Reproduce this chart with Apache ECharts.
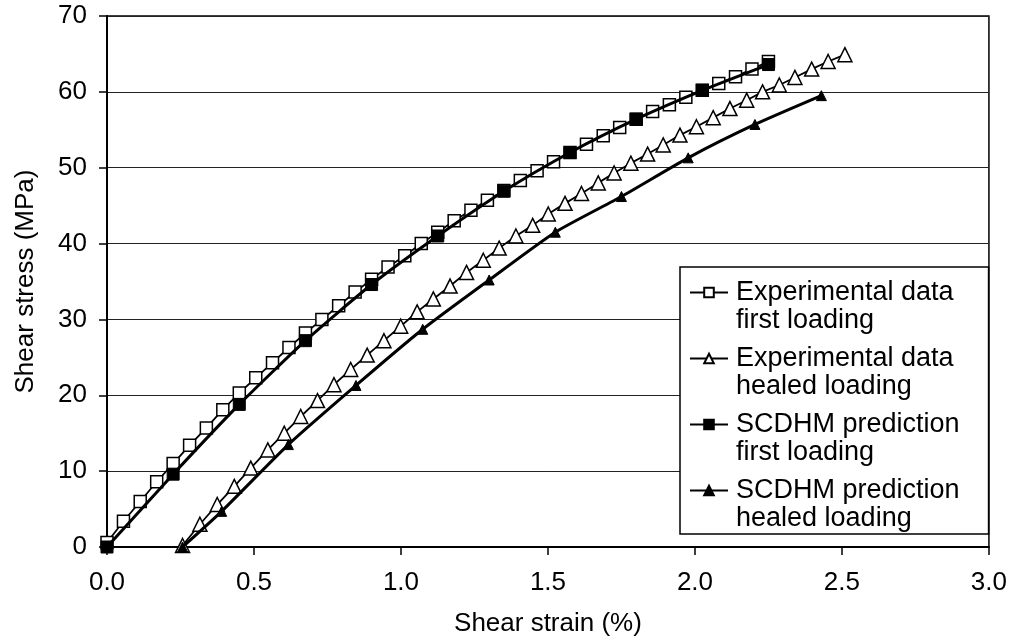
<!DOCTYPE html>
<html>
<head>
<meta charset="utf-8">
<script src="https://cdn.jsdelivr.net/npm/echarts@6/dist/echarts.min.js"></script>
<style>
html,body{margin:0;padding:0;background:#fff;}
#chart{width:1010px;height:642px;}
</style>
</head>
<body>
<div id="chart"></div>
<script>
// ---- data ----
var seriesNames = [
  'Experimental data\nfirst loading',
  'Experimental data\nhealed loading',
  'SCDHM prediction\nfirst loading',
  'SCDHM prediction\nhealed loading'
];

var expFirstX = [0.000,0.056,0.113,0.169,0.225,0.281,0.338,0.394,0.450,0.506,0.563,0.619,0.675,0.731,0.788,0.844,0.900,0.956,1.013,1.069,1.125,1.181,1.238,1.294,1.350,1.406,1.463,1.519,1.575,1.631,1.688,1.744,1.800,1.856,1.913,1.969,2.025,2.081,2.138,2.194,2.250];
var expFirstY = [0.6,3.4,6.0,8.6,11.0,13.4,15.7,18.1,20.3,22.3,24.3,26.3,28.2,30.0,31.8,33.6,35.3,36.9,38.4,40.0,41.5,43.0,44.4,45.7,47.0,48.3,49.6,50.8,52.0,53.1,54.2,55.3,56.4,57.4,58.3,59.3,60.2,61.1,62.0,63.0,64.0];

var expHealedX = [0.257,0.316,0.375,0.433,0.489,0.547,0.603,0.659,0.716,0.772,0.829,0.885,0.942,0.999,1.055,1.110,1.167,1.223,1.280,1.334,1.391,1.448,1.501,1.558,1.614,1.671,1.725,1.782,1.839,1.892,1.949,2.005,2.062,2.119,2.176,2.230,2.287,2.340,2.397,2.453,2.510];
var expHealedY = [0.2,3.0,5.6,8.0,10.4,12.8,15.0,17.2,19.3,21.4,23.4,25.3,27.2,29.1,31.0,32.7,34.4,36.2,37.8,39.4,41.0,42.4,43.9,45.3,46.6,48.0,49.3,50.6,51.8,53.0,54.3,55.4,56.6,57.8,58.9,60.0,60.9,61.9,63.0,64.0,64.9];

var predFirstX = [0,0.225,0.45,0.675,0.9,1.125,1.35,1.575,1.8,2.025,2.25];
var predFirstY = [0,9.6,18.8,27.2,34.6,41.0,46.9,52.0,56.4,60.2,63.6];

var predHealedX = [0.257,0.39,0.617,0.847,1.074,1.30,1.525,1.75,1.977,2.204,2.43];
var predHealedY = [0,4.7,13.5,21.3,28.7,35.2,41.5,46.2,51.3,55.7,59.5];

var xTickLabels = ['0.0','0.5','1.0','1.5','2.0','2.5','3.0'];
var yTickLabels = ['0','10','20','30','40','50','60','70'];

var xName = 'Shear strain (%)';
var yName = 'Shear stress (MPa)';

// ---- chart ----
function pairs(xs, ys){ return xs.map(function(x,i){ return [x, ys[i]]; }); }
var FONT = '"Liberation Sans", Arial, sans-serif';

var chart = echarts.init(document.getElementById('chart'), null, {renderer:'canvas'});
var option = {
  animation: false,
  backgroundColor: '#ffffff',
  textStyle: { fontFamily: FONT, color: '#000' },
  grid: {
    left: 107, right: 21, top: 16, bottom: 89,
    show: true, borderColor: '#000', borderWidth: 1.5, backgroundColor: 'transparent'
  },
  xAxis: {
    type: 'value', min: 0, max: 3, interval: 0.5,
    name: xName, nameLocation: 'middle', nameGap: 64,
    nameTextStyle: { fontSize: 26, color: '#000', fontFamily: FONT },
    axisLine: { show: true, lineStyle: { color: '#000', width: 2 } },
    axisTick: { show: true, inside: false, length: 8, lineStyle: { color: '#000', width: 1.5 } },
    axisLabel: { fontSize: 26, color: '#000', margin: 23, fontFamily: FONT,
      formatter: function(v){ var i = Math.round(v/0.5); return xTickLabels[i] !== undefined ? xTickLabels[i] : v.toFixed(1); } },
    splitLine: { show: false }
  },
  yAxis: {
    type: 'value', min: 0, max: 70, interval: 10,
    name: yName, nameLocation: 'middle', nameGap: 68,
    nameTextStyle: { fontSize: 26, color: '#000', fontFamily: FONT },
    axisLine: { show: true, lineStyle: { color: '#000', width: 2 } },
    axisTick: { show: true, inside: false, length: 8, lineStyle: { color: '#000', width: 1.5 } },
    axisLabel: { fontSize: 26, color: '#000', margin: 20, fontFamily: FONT,
      formatter: function(v){ var i = Math.round(v/10); return yTickLabels[i] !== undefined ? yTickLabels[i] : String(v); } },
    splitLine: { show: true, lineStyle: { color: '#222', width: 1 } }
  },
  legend: {
    orient: 'vertical', left: 680, top: 267,
    itemWidth: 38, itemHeight: 12, itemGap: 11,
    padding: [12, 29, 2, 9],
    backgroundColor: '#fff', borderColor: '#000', borderWidth: 1.5,
    selectedMode: false,
    data: seriesNames,
    formatter: function(name){ return name.split('\n').map(function(s){ return '{t|' + s + '}'; }).join('\n'); },
    textStyle: {
      padding: [28, 0, 0, 3],
      rich: { t: { fontSize: 27, lineHeight: 28, color: '#000', fontFamily: FONT } }
    }
  },
  series: [
    {
      name: seriesNames[0], type: 'line', data: pairs(expFirstX, expFirstY),
      symbol: 'rect', symbolSize: 12, z: 2,
      lineStyle: { color: '#000', width: 1.8 },
      itemStyle: { color: '#fff', borderColor: '#000', borderWidth: 1.5 }
    },
    {
      name: seriesNames[1], type: 'line', data: pairs(expHealedX, expHealedY),
      symbol: 'triangle', symbolSize: 14, z: 2,
      lineStyle: { color: '#000', width: 1.8 },
      itemStyle: { color: '#fff', borderColor: '#000', borderWidth: 1.5 }
    },
    {
      name: seriesNames[2], type: 'line', data: pairs(predFirstX, predFirstY),
      symbol: 'rect', symbolSize: 12, z: 3, smooth: 0.2,
      lineStyle: { color: '#000', width: 3 },
      itemStyle: { color: '#000', borderColor: '#000', borderWidth: 1 }
    },
    {
      name: seriesNames[3], type: 'line', data: pairs(predHealedX, predHealedY),
      symbol: 'triangle', symbolSize: 10, z: 3, smooth: 0.2,
      lineStyle: { color: '#000', width: 3 },
      itemStyle: { color: '#000', borderColor: '#000', borderWidth: 1 }
    }
  ]
};
chart.setOption(option);
</script>
</body>
</html>
